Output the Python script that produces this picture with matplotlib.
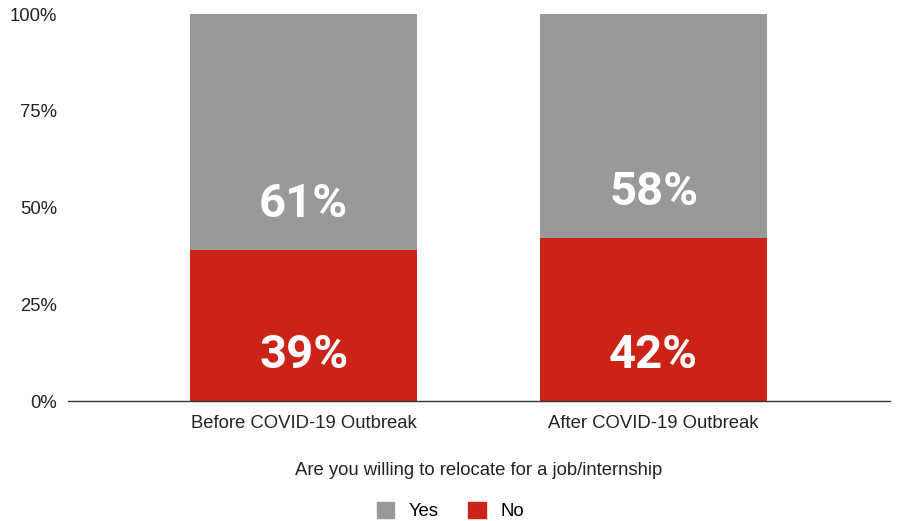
import matplotlib.pyplot as plt
from matplotlib.patches import Patch
from matplotlib.ticker import FuncFormatter

categories = ["Before COVID-19 Outbreak", "After COVID-19 Outbreak"]
no_vals = [39, 42]
yes_vals = [61, 58]
yticks = [0, 25, 50, 75, 100]

grey = "#999999"
red = "#cc2318"

plt.rcParams["font.family"] = ["Liberation Sans", "DejaVu Sans"]

fig = plt.figure(figsize=(9.01, 5.21), dpi=100)
ax = fig.add_axes([0.0755, 0.2303, 0.9125, 0.7427])

x = range(len(categories))
w = 0.649
ax.bar(x, no_vals, width=w, color=red, zorder=2)
ax.bar(x, yes_vals, width=w, bottom=no_vals, color=grey, zorder=2)

# labels sit a fixed distance above each segment's bottom
for i in x:
    ax.text(i, 12, f"{no_vals[i]}%", ha="center", va="center", color="white",
            fontsize=34, fontweight="bold", family="Roboto")
    ax.text(i, no_vals[i] + 12, f"{yes_vals[i]}%", ha="center", va="center",
            color="white", fontsize=34, fontweight="bold", family="Roboto")

ax.set_xlim(-0.673, 1.676)
ax.set_ylim(0, 100)
ax.set_yticks(yticks)
ax.yaxis.set_major_formatter(FuncFormatter(lambda v, p: f"{v:.0f}%"))
ax.set_xticks(list(x))
ax.set_xticklabels(categories)
ax.tick_params(axis="both", length=0, labelsize=13.3, colors="#222222")
ax.tick_params(axis="y", pad=8)
ax.tick_params(axis="x", pad=10)
for s in ["top", "right", "left"]:
    ax.spines[s].set_visible(False)
ax.spines["bottom"].set_color("#333333")
ax.spines["bottom"].set_linewidth(1)

ax.set_xlabel("Are you willing to relocate for a job/internship", fontsize=13.3,
              color="#222222", labelpad=22)

handles = [Patch(color=grey, label="Yes"), Patch(color=red, label="No")]
fig.legend(handles=handles, loc="lower center", ncol=2, frameon=False,
           fontsize=13.3, bbox_to_anchor=(0.5, -0.03), handlelength=0.95,
           handleheight=0.95, columnspacing=1.6, handletextpad=0.8)

fig.savefig("out.png", dpi=100)
